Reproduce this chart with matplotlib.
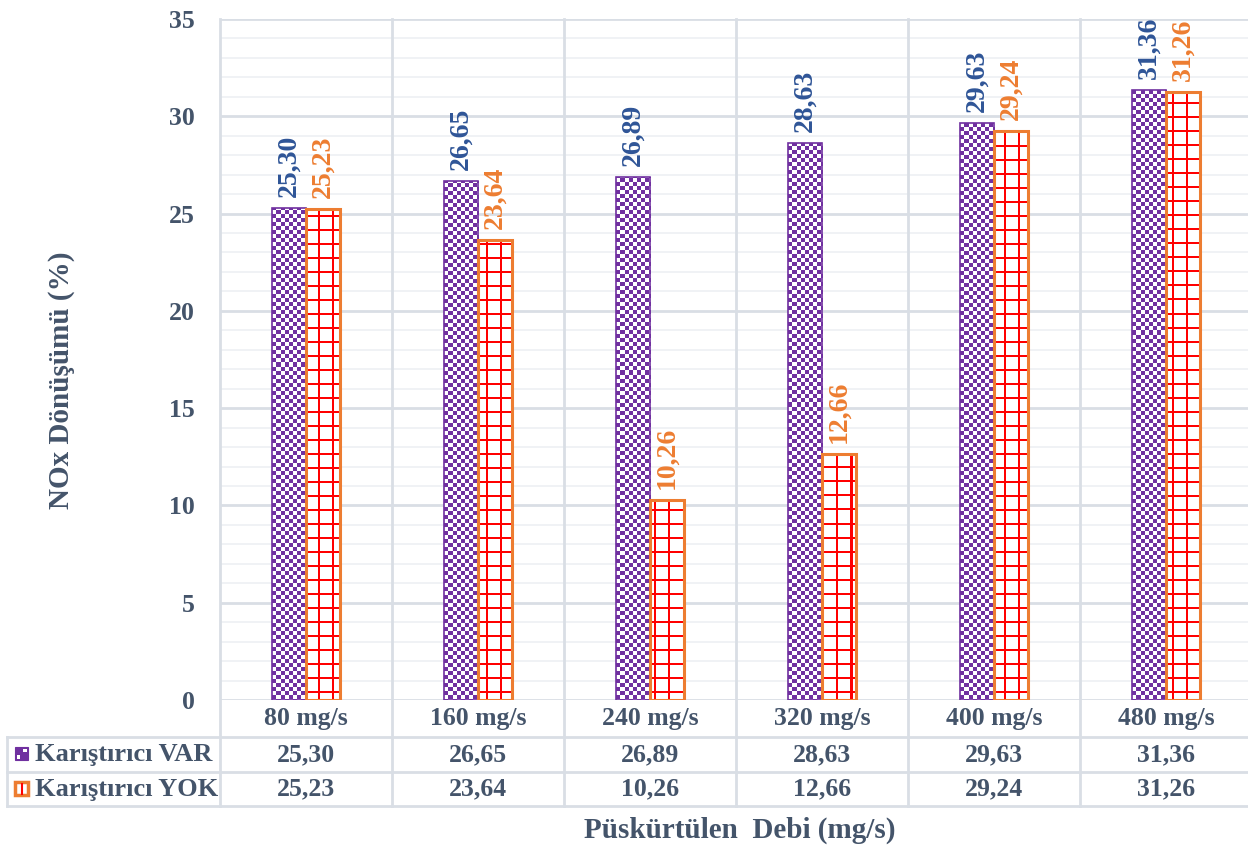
import numpy as np
import matplotlib
matplotlib.use('Agg')
import matplotlib.pyplot as plt
from matplotlib.patches import Rectangle
import matplotlib.transforms as mtransforms

# data
categories = ['80 mg/s', '160 mg/s', '240 mg/s', '320 mg/s', '400 mg/s', '480 mg/s']
series_names = ['Karıştırıcı VAR', 'Karıştırıcı YOK']
var_values = [25.30, 26.65, 26.89, 28.63, 29.63, 31.36]
yok_values = [25.23, 23.64, 10.26, 12.66, 29.24, 31.26]
y_ticks = [0, 5, 10, 15, 20, 25, 30, 35]

plt.rcParams['font.family'] = ['Liberation Serif', 'DejaVu Serif']
plt.rcParams['font.weight'] = 'bold'

txt = '#44546A'
c_var_lbl = '#2F5597'
c_yok_lbl = '#ED7D31'
purple = '#7030A0'
orange = '#ED7D31'
red = '#FF0000'
gmajor = '#D9DEE5'
gminor = '#EFF1F4'

W, H = 1248, 846
fig = plt.figure(figsize=(W/100, H/100), dpi=100)
L, R, B, T = 220, 1252, 700, 19
ax = fig.add_axes([L/W, 1-B/H, (R-L)/W, (B-T)/H])

x = np.arange(len(categories))
bw = 0.2

# grid
for v in np.arange(0, 36, 1):
    ax.axhline(v, color=gmajor if v % 5 == 0 else gminor,
               lw=2 if v % 5 == 0 else 1.3, zorder=0)

# table geometry (axes fraction)
def yf(py):
    return (B - py) / (B - T)
r1, r2, r3 = yf(737), yf(772), yf(806)
xleft = (7 - L) / (R - L)

trans = mtransforms.blended_transform_factory(ax.transData, ax.transAxes)
for k in range(len(categories) + 1):
    ax.plot([k - 0.5, k - 0.5], [r3, 1], color=gmajor, lw=2,
            transform=trans, clip_on=False, zorder=0)
for yy in [r1, r2, r3]:
    ax.plot([xleft, 1], [yy, yy], color=gmajor, lw=2,
            transform=ax.transAxes, clip_on=False)
ax.plot([xleft, xleft], [r1, r3], color=gmajor, lw=2,
        transform=ax.transAxes, clip_on=False)

# patterns
ny, nx = B - T, R - L
yi, xi = np.mgrid[0:ny, 0:nx]
checker = np.ones((ny, nx, 4))
mask = ((xi // 4 + yi // 4) % 2) == 0
checker[mask] = [0x70/255, 0x30/255, 0xA0/255, 1]
grid = np.ones((ny, nx, 4))
gm = ((xi % 14) < 2) | ((yi % 14) < 2)
grid[gm] = [1, 0, 0, 1]

bars_var = ax.bar(x - bw/2, var_values, bw, color='none', edgecolor=purple,
                  lw=1.2, zorder=3)
bars_yok = ax.bar(x + bw/2, yok_values, bw, color='none', edgecolor=orange,
                  lw=2.2, zorder=3)
for bars, img in [(bars_var, checker), (bars_yok, grid)]:
    for b in bars:
        im = ax.imshow(img, extent=[0, 1, 0, 1], transform=ax.transAxes,
                       aspect='auto', interpolation='nearest', zorder=2)
        im.set_clip_path(b)

# value labels
for xx, v in zip(x, var_values):
    ax.annotate(f'{v:.2f}'.replace('.', ','), (xx - bw/2, v), xytext=(0, 8),
                textcoords='offset points', rotation=90, ha='center', va='bottom',
                fontsize=20, color=c_var_lbl, fontweight='bold')
for xx, v in zip(x, yok_values):
    ax.annotate(f'{v:.2f}'.replace('.', ','), (xx + bw/2, v), xytext=(0, 8),
                textcoords='offset points', rotation=90, ha='center', va='bottom',
                fontsize=20, color=c_yok_lbl, fontweight='bold')

ax.set_xlim(-0.5, len(categories) - 0.5)
ax.set_ylim(0, 35)
ax.set_yticks(y_ticks)
ax.set_yticklabels([str(t) for t in y_ticks], fontsize=18.5, color=txt, fontweight='bold')
ax.tick_params(axis='y', length=0, pad=18)
ax.set_xticks([])
for s in ax.spines.values():
    s.set_visible(False)

# table text
fs = 18.5
ym1 = (0 + r1) / 2
ym2 = (r1 + r2) / 2
ym3 = (r2 + r3) / 2
for k, c in enumerate(categories):
    ax.text(k, ym1, c, transform=trans, ha='center', va='center',
            fontsize=fs, color=txt, fontweight='bold')
    ax.text(k, ym2, f'{var_values[k]:.2f}'.replace('.', ','), transform=trans,
            ha='center', va='center', fontsize=fs, color=txt, fontweight='bold')
    ax.text(k, ym3, f'{yok_values[k]:.2f}'.replace('.', ','), transform=trans,
            ha='center', va='center', fontsize=fs, color=txt, fontweight='bold')

# legend keys in table
fig.text(35/W, 1 - 754/H, series_names[0], ha='left', va='center',
         fontsize=19, color=txt, fontweight='bold')
fig.text(35/W, 1 - 789/H, series_names[1], ha='left', va='center',
         fontsize=19, color=txt, fontweight='bold')
s = 13
kx, ky1, ky2 = 15, 747, 782
fig.patches.append(Rectangle((kx/W, 1-(ky1+s)/H), s/W, s/H, transform=fig.transFigure,
                             facecolor=purple, edgecolor=purple, lw=0.8))
for dx, dy in [(s/2, 0), (0, s/2)]:
    fig.patches.append(Rectangle(((kx+dx+1.5)/W, 1-(ky1+dy+s/2-1.5)/H), (s/2-3)/W, (s/2-3)/H,
                                 transform=fig.transFigure, facecolor='white', lw=0))
fig.patches.append(Rectangle((kx/W, 1-(ky2+s)/H), s/W, s/H, transform=fig.transFigure,
                             facecolor='white', edgecolor=orange, lw=2.5))
fig.lines.append(plt.Line2D([(kx+s/2)/W, (kx+s/2)/W], [1-(ky2+1.5)/H, 1-(ky2+s-1.5)/H],
                            transform=fig.transFigure, color=red, lw=1.5))

# axis titles
fig.text(62/W, 1 - 380/H, 'NOx Dönüşümü (%)', rotation=90, ha='center', va='center',
         fontsize=21, color=txt, fontweight='bold')
fig.text(740/W, 1 - 830/H, 'Püskürtülen  Debi (mg/s)', ha='center', va='center',
         fontsize=21, color=txt, fontweight='bold')

fig.savefig('out.png', dpi=100)
